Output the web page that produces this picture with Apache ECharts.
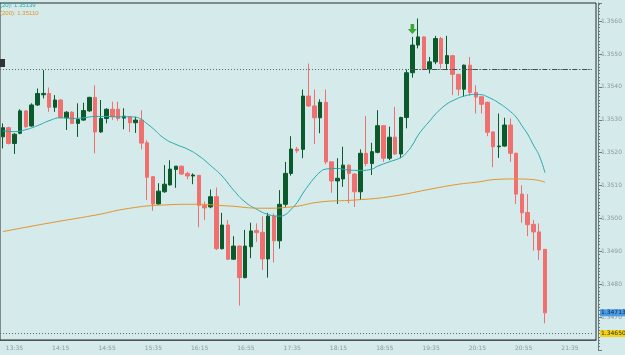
<!DOCTYPE html>
<html>
<head>
<meta charset="utf-8">
<script src="https://cdn.jsdelivr.net/npm/echarts@6/dist/echarts.min.js"></script>
<style>
  html, body { margin: 0; padding: 0; background: #d5eaeb; }
  #chart { width: 625px; height: 355px; }
</style>
</head>
<body>
<div id="chart"></div>
<script>
// EURUSD-style 5 minute bars, 13:25 .. 21:15
var firstBar = '13:25';
var slotCount = 103;   // bars + empty space on the right
var tickLabels = ['13:35', '14:15', '14:55', '15:35', '16:15', '16:55', '17:35', '18:15', '18:55', '19:35', '20:15', '20:55', '21:35'];

// [open, close, low, high]
var ohlc = [
  [1.35248, 1.35276, 1.35213, 1.35289],
  [1.35276, 1.35228, 1.35225, 1.35279],
  [1.35228, 1.35256, 1.35196, 1.35259],
  [1.35259, 1.35327, 1.35256, 1.35332],
  [1.35327, 1.35279, 1.35274, 1.35329],
  [1.35281, 1.35345, 1.35279, 1.35350],
  [1.35345, 1.35380, 1.35342, 1.35395],
  [1.35376, 1.35380, 1.35365, 1.35451],
  [1.35380, 1.35338, 1.35324, 1.35398],
  [1.35338, 1.35360, 1.35324, 1.35375],
  [1.35360, 1.35307, 1.35304, 1.35362],
  [1.35306, 1.35323, 1.35269, 1.35326],
  [1.35323, 1.35289, 1.35287, 1.35326],
  [1.35289, 1.35301, 1.35248, 1.35350],
  [1.35299, 1.35328, 1.35297, 1.35352],
  [1.35327, 1.35368, 1.35324, 1.35370],
  [1.35368, 1.35263, 1.35198, 1.35405],
  [1.35263, 1.35304, 1.35260, 1.35360],
  [1.35304, 1.35332, 1.35289, 1.35335],
  [1.35332, 1.35309, 1.35299, 1.35355],
  [1.35332, 1.35304, 1.35297, 1.35355],
  [1.35305, 1.35311, 1.35271, 1.35335],
  [1.35309, 1.35291, 1.35263, 1.35311],
  [1.35291, 1.35299, 1.35260, 1.35309],
  [1.35299, 1.35229, 1.35210, 1.35329],
  [1.35230, 1.35125, 1.35056, 1.35238],
  [1.35127, 1.35044, 1.35023, 1.35127],
  [1.35044, 1.35083, 1.35042, 1.35107],
  [1.35081, 1.35104, 1.35078, 1.35162],
  [1.35102, 1.35150, 1.35100, 1.35177],
  [1.35149, 1.35159, 1.35093, 1.35159],
  [1.35159, 1.35135, 1.35132, 1.35160],
  [1.35137, 1.35129, 1.35119, 1.35142],
  [1.35129, 1.35132, 1.35104, 1.35137],
  [1.35131, 1.35040, 1.34973, 1.35132],
  [1.35039, 1.35032, 1.34995, 1.35051],
  [1.35035, 1.35066, 1.35031, 1.35088],
  [1.35066, 1.34908, 1.34904, 1.35094],
  [1.34908, 1.34980, 1.34906, 1.35017],
  [1.34980, 1.34876, 1.34874, 1.34995],
  [1.34876, 1.34916, 1.34874, 1.34946],
  [1.34916, 1.34820, 1.34735, 1.34918],
  [1.34820, 1.34916, 1.34818, 1.34965],
  [1.34914, 1.34962, 1.34879, 1.34987],
  [1.34963, 1.34957, 1.34929, 1.34985],
  [1.34958, 1.34877, 1.34843, 1.35007],
  [1.34877, 1.35007, 1.34820, 1.35017],
  [1.35007, 1.34932, 1.34866, 1.35015],
  [1.34932, 1.35043, 1.34908, 1.35086],
  [1.35043, 1.35137, 1.35035, 1.35172],
  [1.35137, 1.35211, 1.35130, 1.35250],
  [1.35211, 1.35206, 1.35199, 1.35217],
  [1.35210, 1.35372, 1.35183, 1.35392],
  [1.35372, 1.35342, 1.35339, 1.35471],
  [1.35342, 1.35306, 1.35226, 1.35392],
  [1.35306, 1.35353, 1.35259, 1.35362],
  [1.35353, 1.35172, 1.35165, 1.35392],
  [1.35172, 1.35114, 1.35078, 1.35172],
  [1.35114, 1.35122, 1.35044, 1.35183],
  [1.35120, 1.35162, 1.35096, 1.35218],
  [1.35162, 1.35137, 1.35046, 1.35164],
  [1.35135, 1.35081, 1.35035, 1.35137],
  [1.35081, 1.35198, 1.35056, 1.35210],
  [1.35198, 1.35167, 1.35159, 1.35311],
  [1.35167, 1.35203, 1.35132, 1.35230],
  [1.35201, 1.35282, 1.35198, 1.35329],
  [1.35282, 1.35183, 1.35172, 1.35284],
  [1.35183, 1.35247, 1.35177, 1.35279],
  [1.35247, 1.35196, 1.35193, 1.35339],
  [1.35196, 1.35307, 1.35183, 1.35309],
  [1.35307, 1.35443, 1.35274, 1.35453],
  [1.35443, 1.35527, 1.35428, 1.35552],
  [1.35527, 1.35552, 1.35517, 1.35608],
  [1.35552, 1.35454, 1.35451, 1.35554],
  [1.35454, 1.35476, 1.35441, 1.35491],
  [1.35476, 1.35547, 1.35469, 1.35555],
  [1.35547, 1.35471, 1.35456, 1.35552],
  [1.35471, 1.35495, 1.35451, 1.35555],
  [1.35495, 1.35438, 1.35375, 1.35497],
  [1.35438, 1.35393, 1.35373, 1.35440],
  [1.35393, 1.35466, 1.35370, 1.35468],
  [1.35466, 1.35383, 1.35373, 1.35491],
  [1.35383, 1.35369, 1.35319, 1.35405],
  [1.35370, 1.35347, 1.35319, 1.35370],
  [1.35353, 1.35262, 1.35250, 1.35355],
  [1.35263, 1.35218, 1.35156, 1.35265],
  [1.35218, 1.35220, 1.35184, 1.35319],
  [1.35220, 1.35284, 1.35218, 1.35306],
  [1.35284, 1.35198, 1.35172, 1.35304],
  [1.35198, 1.35074, 1.35044, 1.35200],
  [1.35074, 1.35017, 1.34987, 1.35101],
  [1.35018, 1.34981, 1.34946, 1.35074],
  [1.34982, 1.34959, 1.34902, 1.34995],
  [1.34959, 1.34904, 1.34874, 1.34985],
  [1.34906, 1.34713, 1.34681, 1.34906]
];

// moving averages: [bar index, value]
var ma20 = [
  [0, 1.35266], [2, 1.35264], [4, 1.35270], [6, 1.35282], [8, 1.35297], [10, 1.35306],
  [12, 1.35304], [14, 1.35306], [16, 1.35310], [18, 1.35310], [20, 1.35309], [22, 1.35309],
  [23, 1.35308], [24, 1.35301], [25, 1.35288], [26, 1.35274], [28, 1.35243], [30, 1.35225],
  [32, 1.35211], [34, 1.35190], [36, 1.35161], [38, 1.35129], [40, 1.35086], [42, 1.35050],
  [44, 1.35028], [46, 1.35012], [48, 1.35007], [49, 1.35012], [50, 1.35028], [51, 1.35048],
  [52, 1.35076], [53, 1.35101], [54, 1.35123], [55, 1.35141], [56, 1.35150], [58, 1.35152],
  [60, 1.35147], [62, 1.35146], [64, 1.35150], [65, 1.35159], [67, 1.35172], [69, 1.35185],
  [70, 1.35200], [71, 1.35223], [72, 1.35253], [73, 1.35276], [74, 1.35296], [75, 1.35317],
  [76, 1.35334], [77, 1.35348], [78, 1.35358], [80, 1.35372], [82, 1.35377], [83, 1.35376],
  [84, 1.35370], [86, 1.35351], [88, 1.35325], [89, 1.35308], [90, 1.35282], [91, 1.35256],
  [92, 1.35223], [93, 1.35191], [94, 1.35139]
];
var ma200 = [
  [0, 1.34960], [8, 1.34986], [16, 1.35010], [22, 1.35031], [28, 1.35041], [33, 1.35043],
  [39, 1.35038], [45, 1.35031], [50, 1.35035], [55, 1.35050], [61, 1.35056], [67, 1.35066],
  [75, 1.35092], [79, 1.35104], [82, 1.35110], [86, 1.35119], [89, 1.35120], [92, 1.35118],
  [94, 1.35110]
];

var dottedLevel = 1.35453;
var alertLevel = 1.34650;
var bidLevel = 1.34713;
var arrowBar = 71;
var arrowPrice = 1.35576;

// time slots
var categories = [];
(function () {
  var p = firstBar.split(':');
  var m = (+p[0]) * 60 + (+p[1]);
  for (var i = 0; i < slotCount; i++) {
    var t = m + i * 5;
    var hh = Math.floor(t / 60), mm = t % 60;
    categories.push((hh < 10 ? '0' : '') + hh + ':' + (mm < 10 ? '0' : '') + mm);
  }
})();

var isMajor = function (idx, val) { return tickLabels.indexOf(categories[idx]) >= 0; };

var bull = '#0b5a2c', bear = '#f07070';
var txt = '#8a9a9b';

var chart = echarts.init(document.getElementById('chart'));
var option = {
  animation: false,
  backgroundColor: '#d5eaeb',
  grid: [
    // price area (extends under the time scale so that min sits on 1.3460)
    { left: -1, right: 29, top: 3, bottom: 5 },
    // frame + time scale
    { left: -1, right: 29, top: 3, bottom: 15, show: true, borderColor: '#2a2a2a', borderWidth: 1, backgroundColor: 'transparent' }
  ],
  xAxis: [
    { type: 'category', gridIndex: 0, data: categories, show: false },
    {
      type: 'category', gridIndex: 1, data: categories, position: 'bottom', offset: 1,
      axisLine: { lineStyle: { color: '#555', width: 1 } },
      axisTick: { interval: 0, alignWithLabel: true, length: 2, lineStyle: { color: '#666' } },
      axisLabel: { show: false }, splitLine: { show: false }
    },
    {
      type: 'category', gridIndex: 1, data: categories, position: 'bottom', offset: 1,
      axisLine: { show: false },
      axisTick: { interval: isMajor, alignWithLabel: true, length: 5, lineStyle: { color: '#444' } },
      axisLabel: { interval: isMajor, color: txt, fontSize: 6, fontFamily: 'DejaVu Sans', margin: 4 },
      splitLine: { show: false }
    }
  ],
  yAxis: [{
    type: 'value', gridIndex: 0, position: 'right', offset: 4,
    min: 1.3460, max: 1.35655, interval: 0.001,
    axisLine: { show: true, lineStyle: { color: '#6b7b7b' } },
    axisTick: { show: true, length: 4, lineStyle: { color: '#6b7b7b' } },
    minorTick: { show: true, splitNumber: 10, length: 2, lineStyle: { color: '#6b7b7b' } },
    splitLine: { show: false },
    axisLabel: {
      color: txt, fontSize: 6, fontFamily: 'DejaVu Sans', margin: 3,
      showMinLabel: false, showMaxLabel: false,
      formatter: function (v) { return v.toFixed(4); }
    }
  }, {
    type: 'value', gridIndex: 1, show: false, min: 0, max: 1
  }],
  series: [
    {
      type: 'candlestick', xAxisIndex: 0, yAxisIndex: 0,
      data: ohlc, barWidth: 4,
      itemStyle: { color: bull, color0: bear, borderColor: bull, borderColor0: bear, borderWidth: 1 },
      markPoint: {
        silent: true,
        data: [{
          coord: [categories[arrowBar], arrowPrice],
          symbol: 'path://M3,0 L7,0 L7,5 L10,5 L5,10 L0,5 L3,5 Z',
          symbolSize: [9, 10],
          itemStyle: { color: '#3aa832' },
          label: { show: false }
        }]
      }
    },
    {
      name: 'MA20', type: 'line', xAxisIndex: 0, yAxisIndex: 0, data: ma20,
      smooth: true, symbol: 'none', lineStyle: { color: '#27a9ab', width: 1 }, z: 3
    },
    {
      name: 'MA200', type: 'line', xAxisIndex: 0, yAxisIndex: 0, data: ma200,
      smooth: true, symbol: 'none', lineStyle: { color: '#e0962c', width: 1 }, z: 3,
      markLine: {
        silent: true, symbol: ['none', 'none'], precision: 6,
        data: [
          { yAxis: dottedLevel, lineStyle: { color: '#56686a', type: [1, 2], width: 1 }, label: { show: false } },
          [
            { coord: [arrowBar, dottedLevel], lineStyle: { color: '#3f4f50', type: [5, 2, 1, 2], width: 1 }, label: { show: false } },
            { coord: [slotCount - 1, dottedLevel] }
          ],
          {
            yAxis: alertLevel, lineStyle: { color: '#56686a', type: [1, 2], width: 1 },
            label: { show: true, position: 'end', distance: 6, formatter: alertLevel.toFixed(5), fontSize: 6, fontFamily: 'DejaVu Sans', color: '#3a3000', backgroundColor: '#f2d31c', padding: [1, 1, 0, 1] }
          },
          {
            yAxis: bidLevel, lineStyle: { color: 'rgba(0,0,0,0)', width: 1 },
            label: { show: true, position: 'end', distance: 6, formatter: bidLevel.toFixed(5), fontSize: 6, fontFamily: 'DejaVu Sans', color: '#0c2a66', backgroundColor: '#4a9be0', padding: [1, 1, 0, 1] }
          }
        ]
      }
    }
  ],
  graphic: [
    { type: 'text', left: 0, top: 2, style: { text: '(20): ' + ma20[ma20.length - 1][1].toFixed(5), fill: '#27a9ab', font: '6px "Liberation Sans"' } },
    { type: 'text', left: 0, top: 10, style: { text: '(200): ' + ma200[ma200.length - 1][1].toFixed(5), fill: '#e0962c', font: '6px "Liberation Sans"' } },
    { type: 'rect', left: 0, top: 59, shape: { width: 5, height: 8 }, style: { fill: '#2f3535' } }
  ]
};
chart.setOption(option);
</script>
</body>
</html>
